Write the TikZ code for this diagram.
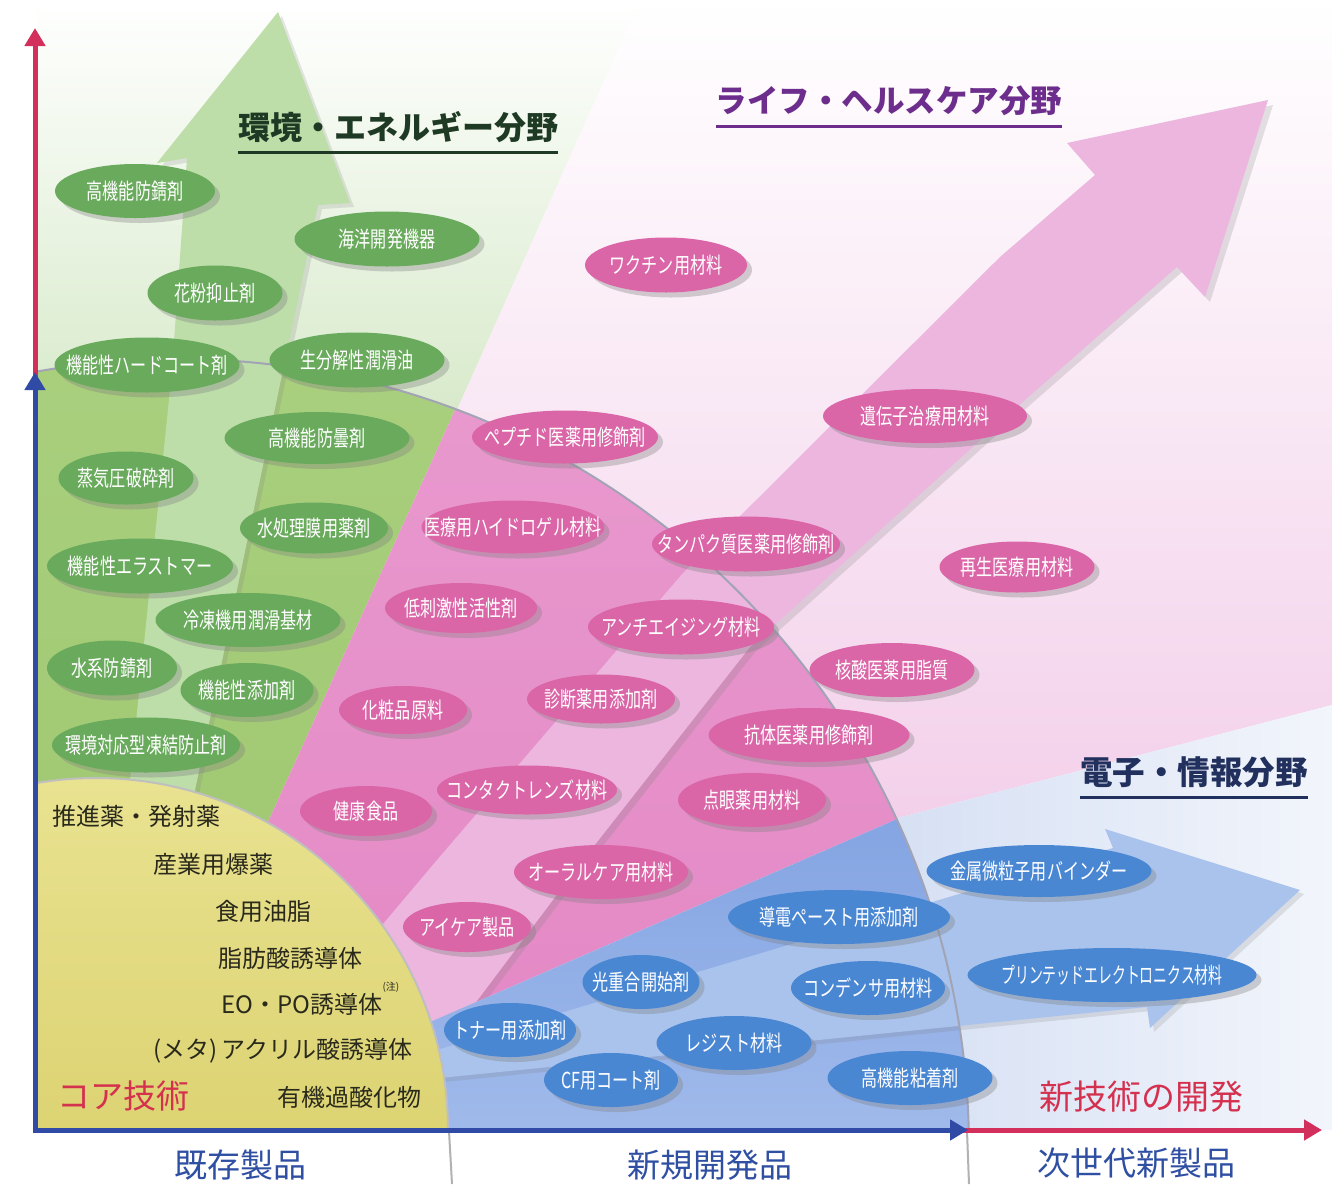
\documentclass[tikz,border=0pt]{standalone}
\usepackage{fontspec}
\setmainfont{Noto Sans CJK JP}
\newfontfamily\jpc[FakeStretch=0.73]{Noto Sans CJK JP}
\newfontfamily\jpcc[FakeStretch=0.63]{Noto Sans CJK JP}
\usetikzlibrary{shapes.geometric,shadows,arrows.meta}

\definecolor{lgreenB}{HTML}{D8EACB}
\definecolor{lpinkM}{HTML}{FBF0F8}
\definecolor{lpinkB}{HTML}{F3D0EA}
\definecolor{lblueL}{HTML}{D6E0F4}
\definecolor{lblueR}{HTML}{F2F5FB}
\definecolor{greenT}{HTML}{AAD07F}
\definecolor{greenB}{HTML}{9CC56C}
\definecolor{pinkT}{HTML}{E99BCF}
\definecolor{pinkB}{HTML}{E386C4}
\definecolor{blueT}{HTML}{7398DE}
\definecolor{blueB}{HTML}{A6BEEC}
\definecolor{yelT}{HTML}{E9E290}
\definecolor{yelB}{HTML}{D0C456}
\definecolor{garrow}{HTML}{BDDDA9}
\definecolor{parrow}{HTML}{ECB6DF}
\definecolor{barrow}{HTML}{A9C3EC}
\definecolor{gEll}{HTML}{6AAA5D}
\definecolor{pEll}{HTML}{DA66A8}
\definecolor{bEll}{HTML}{4A87D3}
\definecolor{axBlue}{HTML}{2F4BA6}
\definecolor{axRed}{HTML}{D22F5C}
\definecolor{arcGrey}{HTML}{A2A4B6}
\definecolor{tGreen}{HTML}{1F3A24}
\definecolor{tPurple}{HTML}{6C2D8C}
\definecolor{tNavy}{HTML}{22305E}
\definecolor{tRed}{HTML}{D4314F}
\definecolor{tBlue}{HTML}{2F4FA3}
\definecolor{coreText}{HTML}{2A2A1C}

\tikzset{
  pill/.style={ellipse, inner sep=0pt, outer sep=0pt, text=white,
    font=\jpc\fontsize{22pt}{26pt}\selectfont,
    drop shadow={shadow xshift=5pt, shadow yshift=-5pt, opacity=0.35}},
  gp/.style={pill, fill=gEll},
  pp/.style={pill, fill=pEll},
  bp/.style={pill, fill=bEll},
  coretxt/.style={anchor=west, inner sep=0pt, text=coreText, font=\fontsize{24pt}{28pt}\selectfont},
  axislab/.style={inner sep=0pt, text=tBlue, font=\fontsize{33pt}{38pt}\selectfont},
  axline/.style={line width=5pt, -{Triangle[width=20pt,length=18pt]}},
  arcline/.style={draw=arcGrey, line width=2pt},
  divider/.style={draw=black!30, line width=2pt},
}

\begin{document}
\begin{tikzpicture}[x=1pt,y=-1pt]
\useasboundingbox (0,0) rectangle (1332,1184);
\fill[white] (0,0) rectangle (1332,1184);

% light backgrounds outside the main arc
\shade[top color=white, bottom color=lgreenB] (37,0) -- (640,0) -- (457,410) -- (37,410) -- cycle;
\shade[top color=white, middle color=lpinkM, bottom color=lpinkB] (640,0) -- (1332,0) -- (1332,705) -- (890,820) -- (457,410) -- cycle;
\shade[left color=lblueL, right color=lblueR] (890,820) -- (1332,705) -- (1332,1130) -- (960,1130) -- cycle;

% green and pink sectors
\begin{scope}
  \clip (178,1150) circle[radius=791];
  \clip (35,0) rectangle (1332,1130);
  \shade[top color=greenT, bottom color=greenB] (30,300) -- (505,300) -- (115,1159) -- (30,1159) -- cycle;
  \shade[top color=pinkT, bottom color=pinkB] (505,300) -- (1332,300) -- (1332,630) -- (115,1159) -- cycle;
\end{scope}

% green and pink arrows
\fill[garrow, drop shadow={shadow xshift=4pt, shadow yshift=-4pt, opacity=0.2}]
  (278,12) -- (350,203) -- (318,205) -- (283,370) -- (193,800) -- (128,800) -- (172,370) -- (187,158) -- (157,163) -- cycle;
\fill[parrow, drop shadow={shadow xshift=5pt, shadow yshift=-5pt, opacity=0.22}]
  (1268,100) -- (1205,297) -- (1177,267) -- (1025,400) -- (750,647) -- (583,860) -- (440,1050) -- (340,975)
  -- (437,860) -- (683,573) -- (1000,257) -- (1095,175) -- (1067,143) -- cycle;

% blue sector
\begin{scope}
  \clip (178,1150) circle[radius=791];
  \clip (35,0) rectangle (1332,1130);
  \shade[top color=blueT, bottom color=blueB] (115,1159) -- (1332,630) -- (1332,1200) -- (115,1200) -- cycle;
\end{scope}

% blue arrow
\fill[barrow, drop shadow={shadow xshift=4pt, shadow yshift=-4pt, opacity=0.2}]
  (420,1055) -- (1113,848) -- (1105,829) -- (1300,890) -- (1150,1028) -- (1147,1007) -- (420,1080) -- cycle;

% core (yellow)
\begin{scope}
  \clip (35,0) rectangle (1332,1130);
  \shade[top color=yelT, bottom color=yelB] (96,1130) circle[radius=352];
  \draw[draw=black!25, line width=2pt] (96,1130) circle[radius=352];
  \draw[arcline] (178,1150) circle[radius=791];
\end{scope}

% dividers under the axis
\coordinate (d1a) at (449,1131);
\coordinate (d1b) at (452,1184);
\coordinate (d2a) at (967,1131);
\coordinate (d2b) at (969,1184);
\draw[divider] (d1a) -- (d1b);
\draw[divider] (d2a) -- (d2b);

% green ellipses
\node[gp, minimum width=160pt, minimum height=54pt] (g1) at (135,191) {\makebox[0pt]{高機能防錆剤}};
\node[gp, minimum width=185pt, minimum height=55pt] (g2) at (387,239) {\makebox[0pt]{海洋開発機器}};
\node[gp, minimum width=135pt, minimum height=55pt] (g3) at (215,293) {\makebox[0pt]{花粉抑止剤}};
\node[gp, minimum width=185pt, minimum height=55pt] (g4) at (147,365) {\makebox[0pt]{機能性ハードコート剤}};
\node[gp, minimum width=175pt, minimum height=55pt] (g5) at (357,360) {\makebox[0pt]{生分解性潤滑油}};
\node[gp, minimum width=185pt, minimum height=52pt] (g6) at (317,438) {\makebox[0pt]{高機能防曇剤}};
\node[gp, minimum width=135pt, minimum height=53pt] (g7) at (126,478) {\makebox[0pt]{蒸気圧破砕剤}};
\node[gp, minimum width=148pt, minimum height=51pt] (g8) at (314,528) {\makebox[0pt]{水処理膜用薬剤}};
\node[gp, minimum width=186pt, minimum height=55pt] (g9) at (140,566) {\makebox[0pt]{機能性エラストマー}};
\node[gp, minimum width=185pt, minimum height=54pt] (g10) at (248,620) {\makebox[0pt]{冷凍機用潤滑基材}};
\node[gp, minimum width=130pt, minimum height=55pt] (g11) at (112,668) {\makebox[0pt]{水系防錆剤}};
\node[gp, minimum width=133pt, minimum height=54pt] (g12) at (247,690) {\makebox[0pt]{機能性添加剤}};
\node[gp, minimum width=188pt, minimum height=55pt] (g13) at (146,745) {\makebox[0pt]{環境対応型凍結防止剤}};

% pink ellipses
\node[pp, minimum width=162pt, minimum height=55pt] (p1) at (666,265) {\makebox[0pt]{ワクチン用材料}};
\node[pp, minimum width=186pt, minimum height=53pt] (p2) at (565,437) {\makebox[0pt]{ペプチド医薬用修飾剤}};
\node[pp, minimum width=204pt, minimum height=54pt] (p3) at (925,416) {\makebox[0pt]{遺伝子治療用材料}};
\node[pp, minimum width=183pt, minimum height=53pt] (p4) at (513,527) {\makebox[0pt]{医療用ハイドロゲル材料}};
\node[pp, minimum width=188pt, minimum height=55pt] (p5) at (746,544) {\makebox[0pt]{タンパク質医薬用修飾剤}};
\node[pp, minimum width=155pt, minimum height=51pt] (p6) at (1017,567) {\makebox[0pt]{再生医療用材料}};
\node[pp, minimum width=152pt, minimum height=50pt] (p7) at (461,608) {\makebox[0pt]{低刺激性活性剤}};
\node[pp, minimum width=186pt, minimum height=55pt] (p8) at (681,627) {\makebox[0pt]{アンチエイジング材料}};
\node[pp, minimum width=165pt, minimum height=54pt] (p9) at (892,670) {\makebox[0pt]{核酸医薬用脂質}};
\node[pp, minimum width=128pt, minimum height=48pt] (p10) at (403,710) {\makebox[0pt]{化粧品原料}};
\node[pp, minimum width=148pt, minimum height=49pt] (p11) at (601,699) {\makebox[0pt]{診断薬用添加剤}};
\node[pp, minimum width=201pt, minimum height=54pt] (p12) at (809,735) {\makebox[0pt]{抗体医薬用修飾剤}};
\node[pp, minimum width=132pt, minimum height=50pt] (p13) at (366,811) {\makebox[0pt]{健康食品}};
\node[pp, minimum width=180pt, minimum height=49pt] (p14) at (527,790) {\makebox[0pt]{コンタクトレンズ材料}};
\node[pp, minimum width=148pt, minimum height=54pt] (p15) at (752,800) {\makebox[0pt]{点眼薬用材料}};
\node[pp, minimum width=174pt, minimum height=54pt] (p16) at (601,872) {\makebox[0pt]{オーラルケア用材料}};
\node[pp, minimum width=128pt, minimum height=50pt] (p17) at (467,927) {\makebox[0pt]{アイケア製品}};

% blue ellipses
\node[bp, minimum width=225pt, minimum height=52pt] (b1) at (1039,871) {\makebox[0pt]{金属微粒子用バインダー}};
\node[bp, minimum width=222pt, minimum height=54pt] (b2) at (839,917) {\makebox[0pt]{導電ペースト用添加剤}};
\node[bp, minimum width=289pt, minimum height=54pt] (b3) at (1112,975) {\makebox[0pt]{\jpcc\fontsize{22pt}{26pt}\selectfont プリンテッドエレクトロニクス材料}};
\node[bp, minimum width=117pt, minimum height=54pt] (b4) at (641,982) {\makebox[0pt]{光重合開始剤}};
\node[bp, minimum width=154pt, minimum height=54pt] (b5) at (868,988) {\makebox[0pt]{コンデンサ用材料}};
\node[bp, minimum width=132pt, minimum height=54pt] (b6) at (510,1030) {\makebox[0pt]{トナー用添加剤}};
\node[bp, minimum width=155pt, minimum height=54pt] (b7) at (734,1043) {\makebox[0pt]{レジスト材料}};
\node[bp, minimum width=134pt, minimum height=54pt] (b8) at (611,1080) {\makebox[0pt]{CF用コート剤}};
\node[bp, minimum width=165pt, minimum height=54pt] (b9) at (910,1078) {\makebox[0pt]{高機能粘着剤}};

% core technology list
\node[coretxt] (c1) at (52,816) {推進薬・発射薬};
\node[coretxt] (c2) at (153,864) {産業用爆薬};
\node[coretxt] (c3) at (215,911) {食用油脂};
\node[coretxt] (c4) at (218,958) {脂肪酸誘導体};
\node[coretxt] (c5) at (221,1004) {EO・PO誘導体};
\node[anchor=south west, inner sep=0pt, text=coreText, font=\fontsize{10pt}{11pt}\selectfont] (c5n) at (c5.north east) {(注)};
\node[coretxt] (c6) at (153,1051) {(メタ)\hspace{4pt}アクリル酸誘導体};
\node[coretxt] (c7) at (277,1097) {有機過酸化物};
\node[anchor=west, inner sep=0pt, text=tRed, font=\fontsize{33pt}{38pt}\selectfont] (core) at (57,1096) {コア技術};

% titles
\node[inner sep=0pt, text=tGreen, font=\bfseries\fontsize{32pt}{36pt}\selectfont] (t1) at (398,127) {環境・エネルギー分野};
\draw[draw=tGreen, line width=3pt] ([yshift=-10pt]t1.south west) -- ([yshift=-10pt]t1.south east);
\node[inner sep=0pt, text=tPurple, font=\bfseries\fontsize{31.5pt}{36pt}\selectfont] (t2) at (889,101) {ライフ・ヘルスケア分野};
\draw[draw=tPurple, line width=3pt] ([yshift=-10pt]t2.south west) -- ([yshift=-10pt]t2.south east);
\node[inner sep=0pt, text=tNavy, font=\bfseries\fontsize{32.5pt}{36pt}\selectfont] (t3) at (1194,772) {電子・情報分野};
\draw[draw=tNavy, line width=3pt] ([yshift=-10pt]t3.south west) -- ([yshift=-10pt]t3.south east);
\node[inner sep=0pt, text=tRed, font=\fontsize{34pt}{38pt}\selectfont] (newtech) at (1141,1097) {新技術の開発};

% axis labels
\node[axislab] (l1) at (240,1165) {既存製品};
\node[axislab] (l2) at (710,1165) {新規開発品};
\node[axislab] (l3) at (1136,1163) {次世代新製品};

% axes
\coordinate (O) at (35,1130);
\coordinate (Vmid) at (35,372);
\coordinate (Vred) at (35,384);
\coordinate (Vtop) at (35,28);
\coordinate (Hmid) at (968,1130);
\coordinate (Hred) at (955,1130);
\coordinate (Hend) at (1322,1130);
\draw[axline, draw=axRed, fill=axRed] (Vred) -- (Vtop);
\draw[axline, draw=axBlue, fill=axBlue] (O) -- (Vmid);
\draw[axline, draw=axRed, fill=axRed] (Hred) -- (Hend);
\draw[axline, draw=axBlue, fill=axBlue] ([xshift=-2.5pt]O) -- (Hmid);
\end{tikzpicture}
\end{document}
